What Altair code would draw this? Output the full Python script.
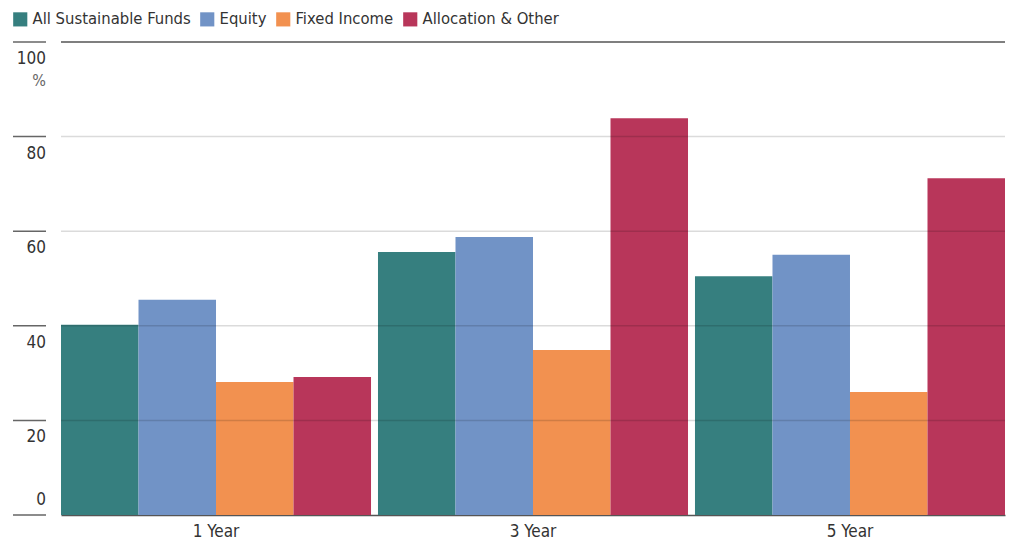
import altair as alt
import pandas as pd

periods = ["1 Year", "3 Year", "5 Year"]
series = ["All Sustainable Funds", "Equity", "Fixed Income", "Allocation & Other"]
colors = ["#367f7f", "#7193c6", "#f29150", "#b8365a"]
all_funds = [40.2, 55.6, 50.5]
equity = [45.5, 58.8, 55.0]
fixed_income = [28.1, 34.9, 26.0]
allocation = [29.2, 83.9, 71.2]
y_ticks = [0, 20, 40, 60, 80, 100]

FONT = "DejaVu Sans Condensed, Roboto, sans-serif"

rows = []
for s, vals in zip(series, [all_funds, equity, fixed_income, allocation]):
    for p, v in zip(periods, vals):
        rows.append({"period": p, "series": s, "value": v})
df = pd.DataFrame(rows)
ticks_df = pd.DataFrame({"v": y_ticks})

yscale = alt.Scale(domain=[0, 100], nice=False)

bars = alt.Chart(df).mark_bar(opacity=1).encode(
    x=alt.X("period:N", sort=periods, title=None,
            scale=alt.Scale(paddingInner=0.022, paddingOuter=0),
            axis=alt.Axis(labelFont=FONT, labelFontSize=17, labelColor="#333333",
                          labelAngle=0, ticks=False, domain=True, domainColor="#555555",
                          domainWidth=1.5, labelPadding=8, grid=False)),
    xOffset=alt.XOffset("series:N", sort=series, scale=alt.Scale(paddingInner=0, paddingOuter=0)),
    y=alt.Y("value:Q", scale=yscale, axis=None),
    color=alt.Color("series:N", sort=series,
                    scale=alt.Scale(domain=series, range=colors),
                    legend=alt.Legend(title=None, orient="none", direction="horizontal",
                                      legendX=-49, legendY=-31, symbolType="square",
                                      symbolSize=200, symbolStrokeWidth=0, symbolOpacity=1,
                                      labelFont=FONT, labelFontSize=16.5, labelColor="#333333",
                                      labelLimit=0, labelOffset=4, columnPadding=8)),
)

grid = alt.Chart(ticks_df).transform_filter("datum.v > 0 && datum.v < 100").mark_rule(
    color="black", opacity=0.14, strokeWidth=1.5
).encode(y=alt.Y("v:Q", scale=yscale), x=alt.value(0), x2=alt.value(944))

top_line = alt.Chart(ticks_df).transform_filter("datum.v == 100").mark_rule(
    color="#555555", strokeWidth=1.5
).encode(y=alt.Y("v:Q", scale=yscale), x=alt.value(0), x2=alt.value(944))

tick_marks = alt.Chart(ticks_df).mark_rule(color="#666666", strokeWidth=1.5).encode(
    y=alt.Y("v:Q", scale=yscale), x=alt.value(-48), x2=alt.value(-15)
)

labels_below = alt.Chart(ticks_df).transform_filter("datum.v > 0").mark_text(
    font=FONT, fontSize=17, color="#333333", align="right", baseline="top", dy=9
).encode(y=alt.Y("v:Q", scale=yscale), x=alt.value(-15), text="v:Q")

label_zero = alt.Chart(ticks_df).transform_filter("datum.v == 0").mark_text(
    font=FONT, fontSize=17, color="#333333", align="right", baseline="bottom", dy=-6
).encode(y=alt.Y("v:Q", scale=yscale), x=alt.value(-15), text="v:Q")

pct = alt.Chart(ticks_df).transform_filter("datum.v == 100").mark_text(
    font=FONT, fontSize=16, color="#666666", align="right", baseline="top", dy=31
).encode(y=alt.Y("v:Q", scale=yscale), x=alt.value(-15), text=alt.value("%"))

chart = alt.layer(bars, grid, top_line, tick_marks, labels_below, label_zero, pct).properties(
    width=944, height=473,
    padding={"left": 53, "top": 34, "right": 1, "bottom": 28},
    autosize=alt.AutoSizeParams(type="none"),
).configure_view(stroke=None)

chart.save("out.html", embed_options={"renderer": "svg", "actions": False})
